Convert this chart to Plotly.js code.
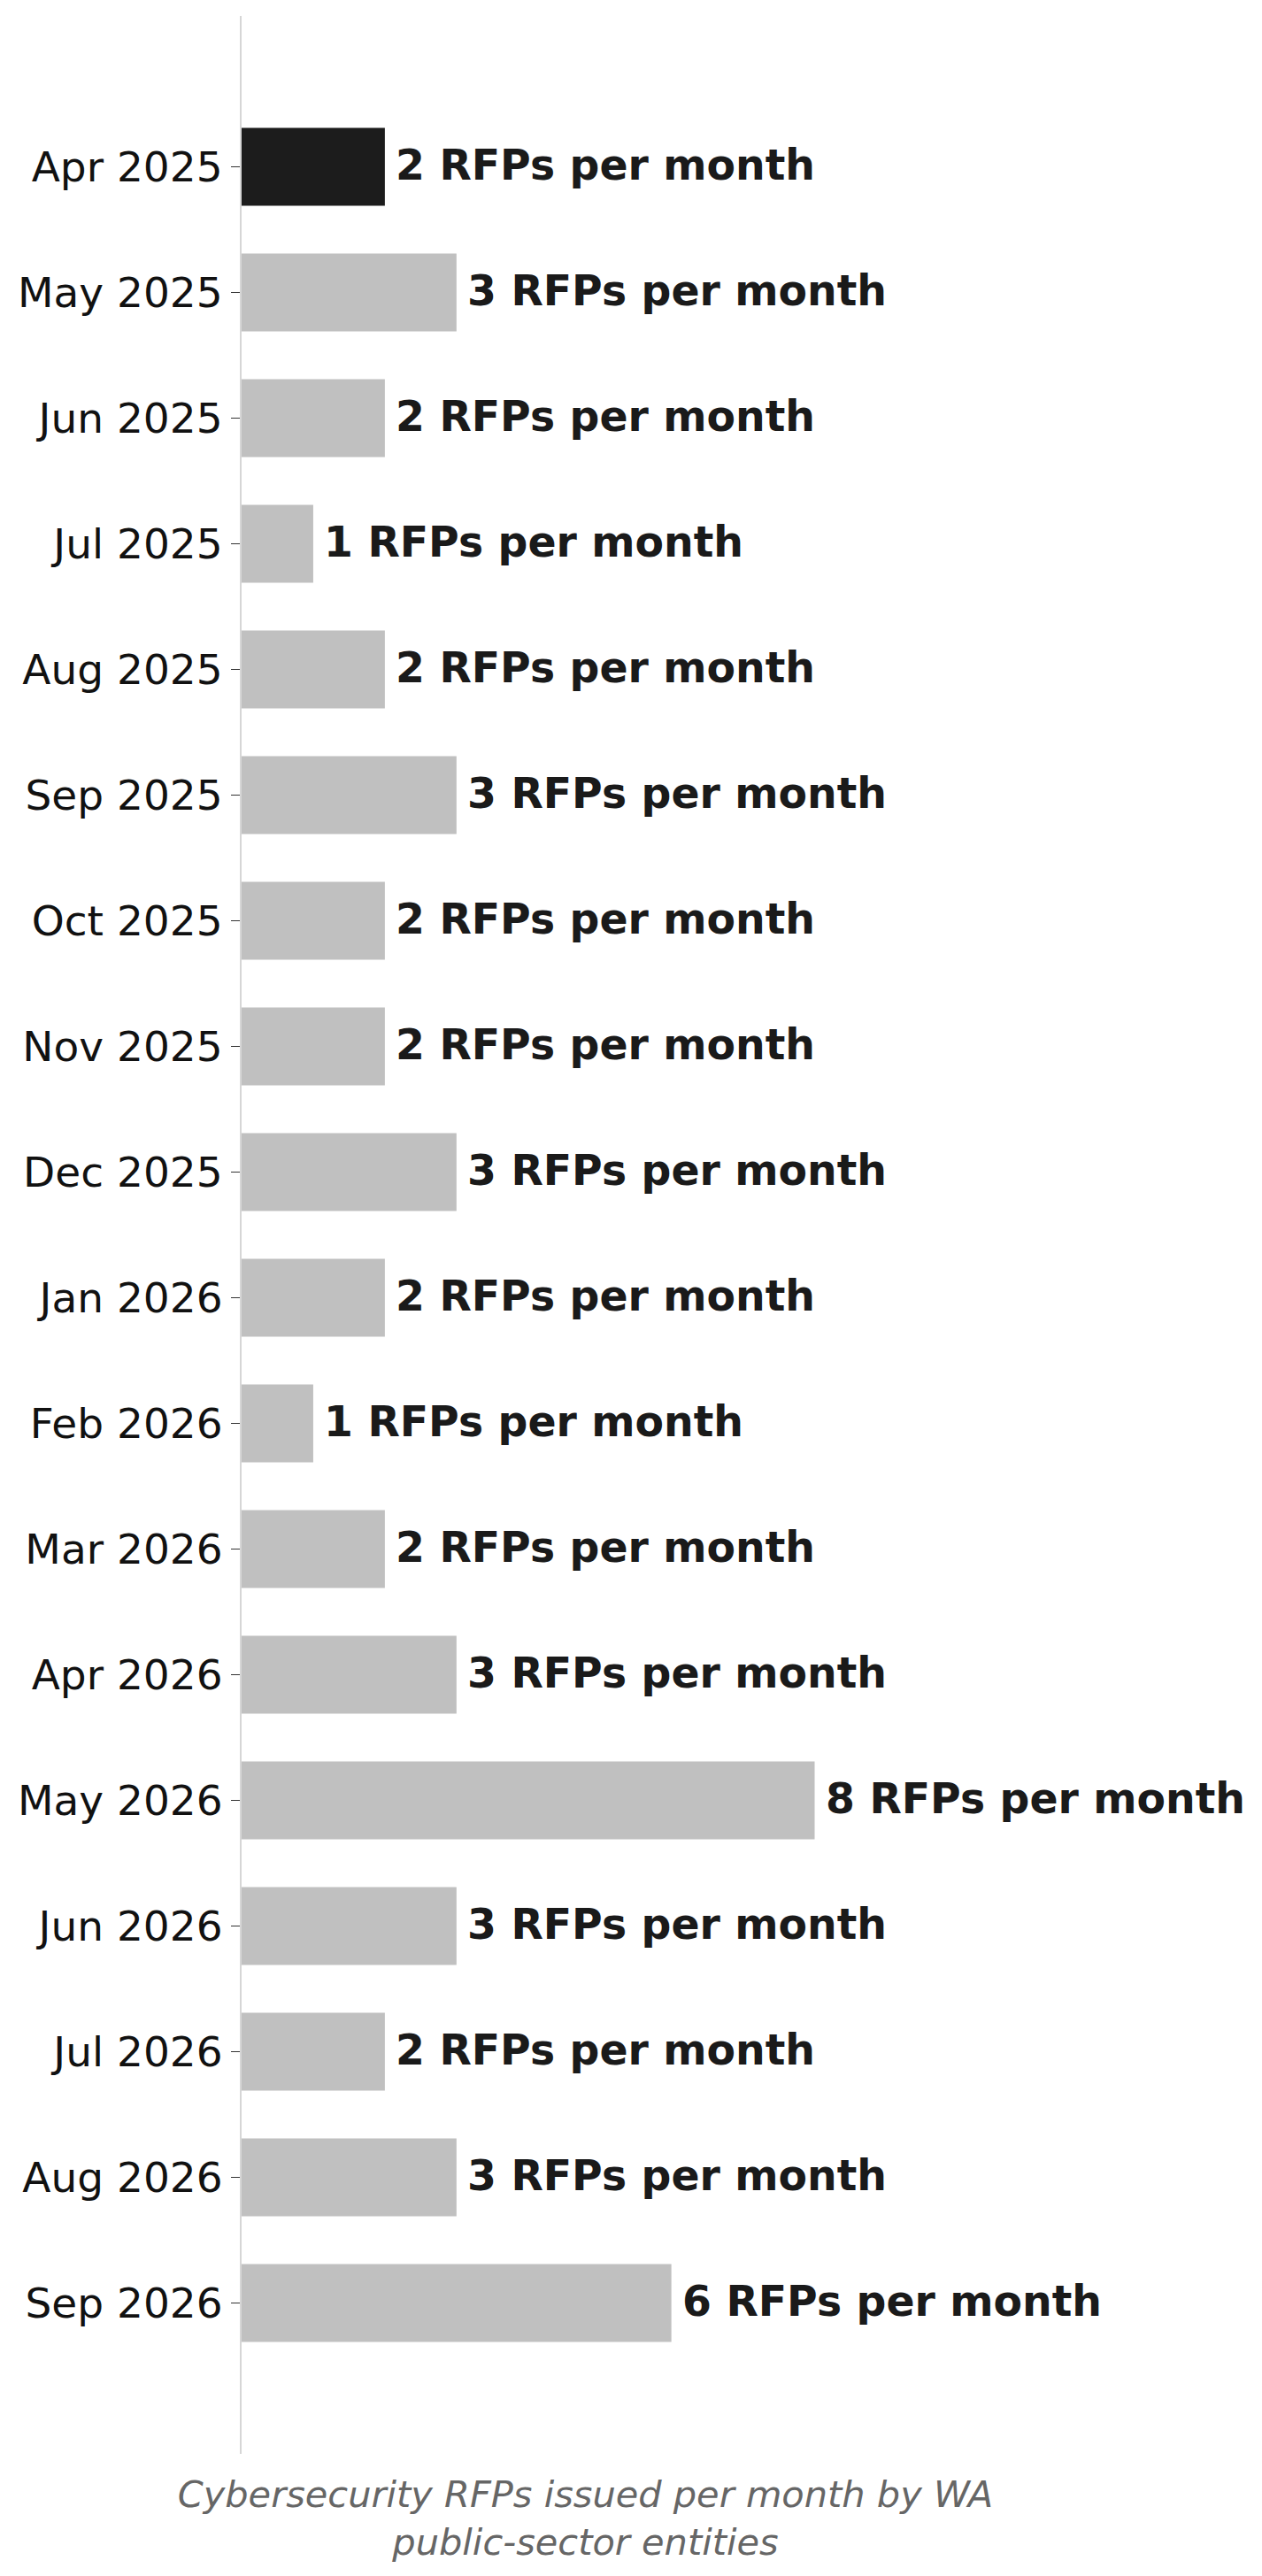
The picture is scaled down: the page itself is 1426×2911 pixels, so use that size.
<!DOCTYPE html>
<html>
<head>
<meta charset="utf-8">
<script src="https://cdn.plot.ly/plotly-3.0.1.min.js"></script>
<style>
  html, body { margin: 0; padding: 0; background: #fff; }
  #chart { width: 1426px; height: 2911px; }
</style>
</head>
<body>
<div id="chart"></div>
<script>
// months shown on the y axis, top to bottom
var months = ['Apr 2025', 'May 2025', 'Jun 2025', 'Jul 2025', 'Aug 2025', 'Sep 2025',
              'Oct 2025', 'Nov 2025', 'Dec 2025', 'Jan 2026', 'Feb 2026', 'Mar 2026',
              'Apr 2026', 'May 2026', 'Jun 2026', 'Jul 2026', 'Aug 2026', 'Sep 2026'];
// RFPs issued in each month
var rfpCounts = [2, 3, 2, 1, 2, 3, 2, 2, 3, 2, 1, 2, 3, 8, 3, 2, 3, 6];
var labelSuffix = ' RFPs per month';
var highlightMonth = 'Apr 2025';

var barColors = months.map(function(m) {
    return m === highlightMonth ? '#1c1c1c' : '#c0c0c0';
});

var trace = {
    type: 'bar',
    orientation: 'h',
    x: rfpCounts,
    y: months,
    width: 0.62,
    marker: {color: barColors, line: {width: 0}},
    hoverinfo: 'x+y'
};

// value labels to the right of each bar
var labels = months.map(function(m, i) {
    return {
        x: rfpCounts[i],
        y: m,
        xref: 'x',
        yref: 'y',
        text: '<b>' + rfpCounts[i] + labelSuffix + '</b>',
        showarrow: false,
        xanchor: 'left',
        yanchor: 'middle',
        xshift: 10,
        yshift: 2,
        font: {family: 'DejaVu Sans', size: 47.3, color: '#1a1a1a'}
    };
});

var maxVal = Math.max.apply(null, rfpCounts);

var layout = {
    width: 1426,
    height: 2911,
    margin: {l: 273, r: 376, t: 18, b: 138},
    paper_bgcolor: '#ffffff',
    plot_bgcolor: '#ffffff',
    showlegend: false,
    font: {family: 'DejaVu Sans', color: '#1a1a1a'},
    xaxis: {
        range: [0, maxVal * 1.2],
        showgrid: false,
        zeroline: false,
        showline: false,
        showticklabels: false,
        ticks: '',
        fixedrange: true,
        title: {
            text: 'Cybersecurity RFPs issued per month by WA<br>public-sector entities',
            font: {family: 'DejaVu Sans', size: 41.5, color: '#666666', style: 'italic'},
            standoff: 30
        }
    },
    yaxis: {
        type: 'category',
        categoryorder: 'array',
        categoryarray: months,
        range: [months.length - 1 + 1.2, -1.2],
        showgrid: false,
        zeroline: false,
        showline: true,
        linecolor: '#d6d6d6',
        linewidth: 2,
        ticks: 'outside',
        ticklen: 10,
        tickwidth: 1.5,
        tickcolor: '#333333',
        ticklabelstandoff: 0,
        tickfont: {family: 'DejaVu Sans', size: 47, color: '#111111'},
        automargin: false,
        fixedrange: true
    },
    annotations: labels
};

Plotly.newPlot('chart', [trace], layout, {displayModeBar: false, staticPlot: true});
</script>
</body>
</html>
